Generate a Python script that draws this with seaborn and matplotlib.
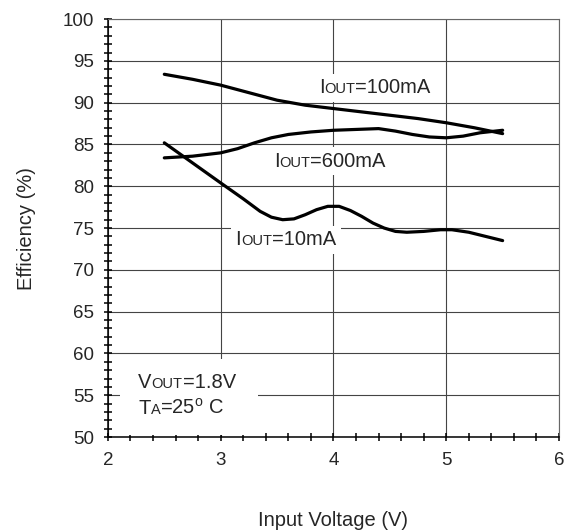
import matplotlib
matplotlib.use("Agg")
import matplotlib.pyplot as plt
import seaborn as sns
import pandas as pd
from matplotlib.offsetbox import TextArea, HPacker, VPacker, AnnotationBbox
from matplotlib.patches import Rectangle
from matplotlib.ticker import MultipleLocator

# ---- data ----
vin_10 = [2.5, 2.75, 3.0, 3.2, 3.35, 3.45, 3.55, 3.65, 3.75, 3.85, 3.95, 4.05, 4.15, 4.25,
          4.35, 4.45, 4.55, 4.65, 4.8, 4.95, 5.05, 5.2, 5.35, 5.5]
eff_10 = [85.2, 82.8, 80.4, 78.5, 77.0, 76.3, 76.0, 76.1, 76.6, 77.2, 77.6, 77.6, 77.1, 76.4,
          75.6, 75.0, 74.6, 74.5, 74.6, 74.8, 74.8, 74.5, 74.0, 73.5]
vin_100 = [2.5, 2.75, 3.0, 3.25, 3.5, 3.75, 4.0, 4.25, 4.5, 4.75, 5.0, 5.25, 5.5]
eff_100 = [93.4, 92.8, 92.1, 91.2, 90.3, 89.7, 89.3, 88.9, 88.5, 88.1, 87.6, 87.0, 86.3]
vin_600 = [2.5, 2.75, 3.0, 3.15, 3.3, 3.45, 3.6, 3.8, 4.0, 4.2, 4.4, 4.55, 4.7, 4.85, 5.0,
           5.15, 5.3, 5.5]
eff_600 = [83.4, 83.6, 84.0, 84.5, 85.2, 85.8, 86.2, 86.5, 86.7, 86.8, 86.9, 86.6, 86.2, 85.9,
           85.8, 86.0, 86.4, 86.7]
x_ticks = [2, 3, 4, 5, 6]
y_ticks = [50, 55, 60, 65, 70, 75, 80, 85, 90, 95, 100]

df = pd.concat([
    pd.DataFrame({"vin": vin_10, "eff": eff_10, "iout": "10mA"}),
    pd.DataFrame({"vin": vin_100, "eff": eff_100, "iout": "100mA"}),
    pd.DataFrame({"vin": vin_600, "eff": eff_600, "iout": "600mA"}),
])

sns.set_theme(style="white")
plt.rcParams["font.family"] = ["Liberation Sans", "DejaVu Sans"]

fig = plt.figure(figsize=(5.71, 5.31), dpi=100)
ax = fig.add_axes([0.189, 0.177, 0.790, 0.787])

sns.lineplot(data=df, x="vin", y="eff", hue="iout", units="iout", estimator=None,
             palette=["black", "black", "black"], linewidth=2.3, legend=False,
             sort=False, ax=ax, zorder=3)

ax.set_xlim(2, 6)
ax.set_ylim(50, 100)
ax.set_xticks(x_ticks)
ax.set_yticks(y_ticks)
ax.xaxis.set_minor_locator(MultipleLocator(0.2))
ax.yaxis.set_minor_locator(MultipleLocator(1))
ax.grid(True, which="major", color="#444444", linewidth=0.8)
ax.set_axisbelow(True)

for s in ["left", "bottom"]:
    ax.spines[s].set_color("black")
    ax.spines[s].set_linewidth(1.1)
for s in ["top", "right"]:
    ax.spines[s].set_color("#666666")
    ax.spines[s].set_linewidth(0.8)

ax.tick_params(axis="both", which="both", direction="inout", color="black",
               width=1.1, left=True, bottom=True, top=False, right=False)
ax.tick_params(axis="both", which="major", length=6)
ax.tick_params(axis="both", which="minor", length=6)
ax.tick_params(axis="x", which="major", labelsize=13.5, pad=8)
ax.tick_params(axis="y", which="major", labelsize=13.5, pad=7)

ax.set_xlabel("Input Voltage (V)", fontsize=14.5, labelpad=30)
ax.set_ylabel("Efficiency (%)", fontsize=14.5, labelpad=19)

BIG = 14.5
SMALL = 10.5


def sub_label(main, sub, rest):
    return HPacker(children=[
        TextArea(main, textprops=dict(fontsize=BIG)),
        TextArea(sub, textprops=dict(fontsize=SMALL)),
        TextArea(rest, textprops=dict(fontsize=BIG)),
    ], align="baseline", pad=0, sep=0)


def place(box, xy, pad):
    ab = AnnotationBbox(box, xy, xycoords="data", box_alignment=(0, 0.5),
                        frameon=True, pad=pad, zorder=2,
                        bboxprops=dict(facecolor="white", edgecolor="none"))
    ax.add_artist(ab)


place(sub_label("I", "OUT", "=100mA"), (3.87, 91.8), 0.3)
place(sub_label("I", "OUT", "=600mA"), (3.47, 83.0), 0.3)
place(sub_label("I", "OUT", "=10mA"), (3.13, 73.6), 0.3)

# white panel behind the conditions text
ax.add_patch(Rectangle((2.11, 50.3), 1.22, 9.0, facecolor="white", edgecolor="none", zorder=1.5))
vline = sub_label("V", "OUT", "=1.8V")
tline = sub_label("T", "A", "=25$^{\\mathregular{o}}$ C")
vt = VPacker(children=[vline, tline], align="left", pad=0, sep=4)
ab = AnnotationBbox(vt, (2.27, 55.0), xycoords="data", box_alignment=(0, 0.5),
                    frameon=False, pad=0, zorder=2)
ax.add_artist(ab)

fig.savefig("out.png", dpi=100, facecolor="white")
